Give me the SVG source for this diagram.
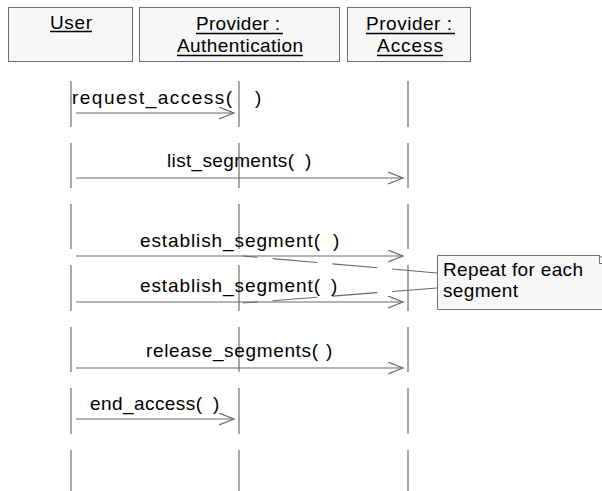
<svg xmlns="http://www.w3.org/2000/svg" width="602" height="491" viewBox="0 0 602 491">
  <style>
    .box { fill: #f7f7f7; stroke: #6e6e6e; stroke-width: 1; }
    .life { stroke: #7a7a7a; stroke-width: 1.3; fill: none; }
    .msg { stroke: #6a6a6a; stroke-width: 1.2; fill: none; }
    .ul { stroke: #000; stroke-width: 1.5; }
    .anchor { stroke: #6a6a6a; stroke-width: 1.1; fill: none; stroke-dasharray: 45 15; }
    text { font-family: "Liberation Sans", Arial, sans-serif; font-size: 19px; fill: #000; }
  </style>
  <defs>
    <marker id="open" markerWidth="18" markerHeight="14" refX="15" refY="6" orient="auto" markerUnits="userSpaceOnUse">
      <path d="M0,0 L15,6 L0,12" fill="none" stroke="#6a6a6a" stroke-width="1.2"/>
    </marker>
  </defs>

  <!-- lifeline heads -->
  <g id="user">
    <rect class="box" x="8.5" y="7.5" width="124" height="54"/>
    <text x="50" y="29" textLength="42" lengthAdjust="spacing">User</text>
    <line class="ul" x1="50" y1="31.5" x2="92" y2="31.5"/>
  </g>
  <g id="auth">
    <rect class="box" x="139.5" y="7.5" width="200" height="54"/>
    <text x="196" y="30" textLength="84" lengthAdjust="spacing">Provider :</text>
    <line class="ul" x1="196" y1="33.5" x2="283" y2="33.5"/>
    <text x="177" y="52" textLength="126" lengthAdjust="spacing">Authentication</text>
    <line class="ul" x1="177" y1="55.5" x2="303" y2="55.5"/>
  </g>
  <g id="access">
    <rect class="box" x="347.5" y="7.5" width="123" height="54"/>
    <text x="366" y="30" textLength="86" lengthAdjust="spacing">Provider :</text>
    <line class="ul" x1="366" y1="33.5" x2="455" y2="33.5"/>
    <text x="377" y="52" textLength="66" lengthAdjust="spacing">Access</text>
    <line class="ul" x1="377" y1="55.5" x2="443" y2="55.5"/>
  </g>

  <!-- lifelines, drawn as broken segments -->
  <g id="lifelines">
    <path class="life" d="M71,81V127 M71,143V188 M71,204V249 M71,265V311 M71,327V372 M71,388V434 M71,450V491"/>
    <path class="life" d="M239,81V127 M239,143V188 M239,204V249 M239,265V311 M239,327V372 M239,388V434 M239,450V491"/>
    <path class="life" d="M408,81V127 M408,143V188 M408,204V249 M408,265V311 M408,327V372 M408,388V434 M408,450V491"/>
  </g>

  <!-- messages -->
  <g id="connectors">
    <line class="msg" x1="76" y1="113" x2="234" y2="113" marker-end="url(#open)"/>
    <line class="msg" x1="76" y1="178" x2="403" y2="178" marker-end="url(#open)"/>
    <line class="msg" x1="76" y1="256" x2="403" y2="256" marker-end="url(#open)"/>
    <line class="msg" x1="76" y1="302" x2="403" y2="302" marker-end="url(#open)"/>
    <line class="msg" x1="76" y1="368" x2="403" y2="368" marker-end="url(#open)"/>
    <line class="msg" x1="76" y1="419" x2="234" y2="419" marker-end="url(#open)"/>
    <path class="anchor" d="M437,273 L243,256"/>
    <path class="anchor" d="M437,288 L243,303"/>
  </g>

  <!-- message labels -->
  <g id="labels">
    <text x="72" y="104"><tspan textLength="160" lengthAdjust="spacing">request_access(</tspan><tspan x="255">)</tspan></text>
    <text x="167" y="167"><tspan textLength="127" lengthAdjust="spacing">list_segments(</tspan><tspan x="305">)</tspan></text>
    <text x="140" y="247"><tspan textLength="180" lengthAdjust="spacing">establish_segment(</tspan><tspan x="333">)</tspan></text>
    <text x="140" y="292"><tspan textLength="180" lengthAdjust="spacing">establish_segment(</tspan><tspan x="331">)</tspan></text>
    <text x="146" y="357"><tspan textLength="172" lengthAdjust="spacing">release_segments(</tspan><tspan x="326">)</tspan></text>
    <text x="90" y="410"><tspan textLength="112" lengthAdjust="spacing">end_access(</tspan><tspan x="213">)</tspan></text>
  </g>

  <!-- note -->
  <g id="note">
    <path class="box" d="M437.5,255.5 H599.5 L607.5,263.5 V309.5 H437.5 Z"/>
    <path d="M599.5,255.5 V263.5 H607.5" fill="none" stroke="#6e6e6e" stroke-width="1"/>
    <text x="443" y="276" textLength="140" lengthAdjust="spacing">Repeat for each</text>
    <text x="443" y="297" textLength="75" lengthAdjust="spacing">segment</text>
  </g>
</svg>
